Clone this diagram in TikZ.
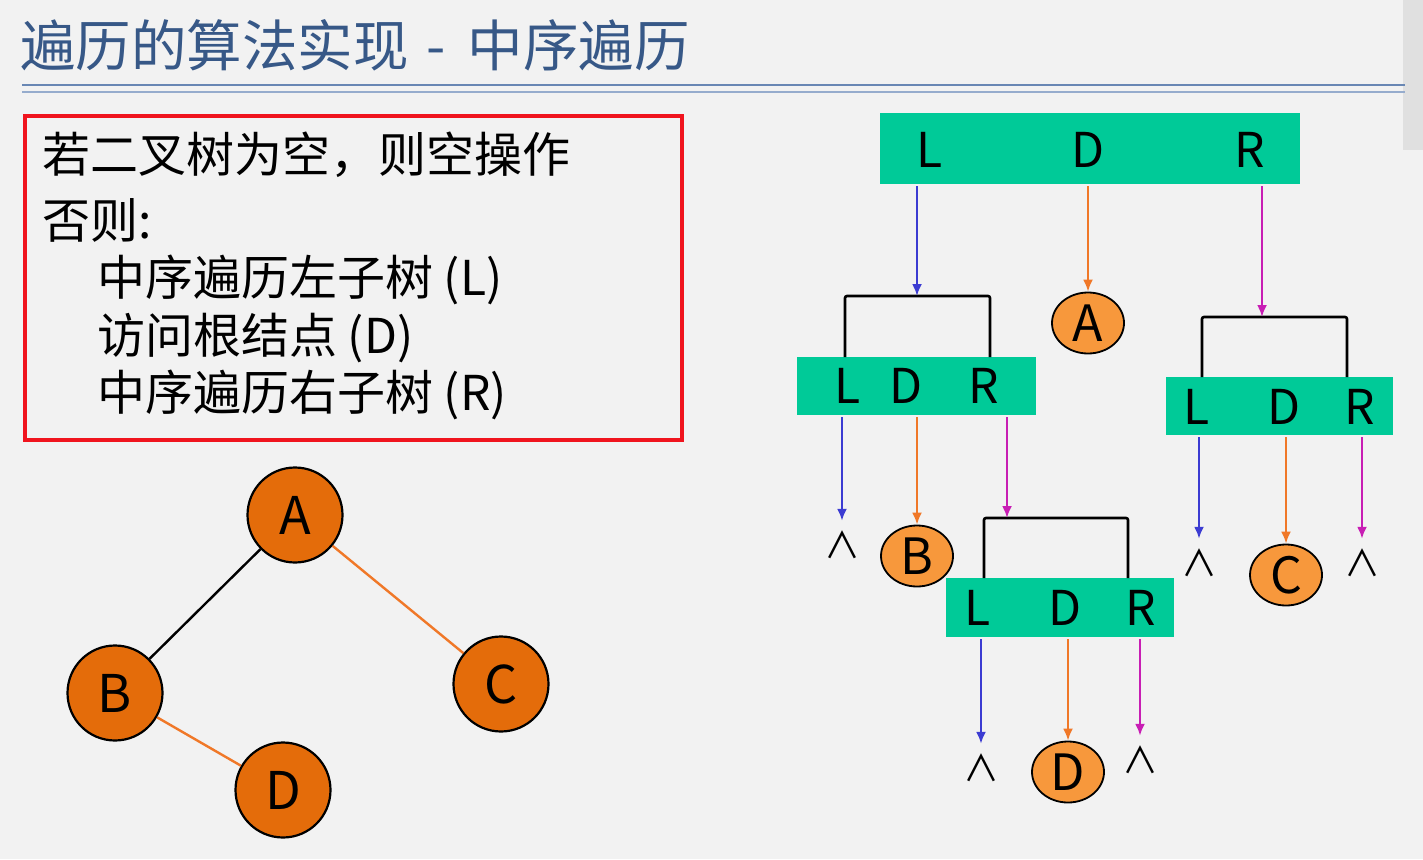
\documentclass[tikz,border=0pt]{standalone}
\usepackage{fontspec}
\setmainfont{Noto Sans CJK SC}
\usepackage{tikz}
\usetikzlibrary{positioning,arrows.meta,shapes.geometric,calc}
\definecolor{slidebg}{RGB}{242,242,242}
\definecolor{titleblue}{RGB}{55,88,135}
\definecolor{ruleblue}{RGB}{105,135,180}
\definecolor{rulelight}{RGB}{150,172,205}
\definecolor{framered}{RGB}{240,20,30}
\definecolor{ldrgreen}{RGB}{0,202,152}
\definecolor{darkorange}{RGB}{228,108,10}
\definecolor{lightorange}{RGB}{247,152,60}
\definecolor{edgeorange}{RGB}{240,120,40}
\definecolor{arrowblue}{RGB}{60,60,210}
\definecolor{arrowmag}{RGB}{200,30,180}
\tikzset{
  titletext/.style={anchor=west,inner sep=0pt,text=titleblue,font=\fontsize{55.5}{60}\selectfont},
  ruletext/.style={anchor=west,inner sep=0pt,font=\fontsize{48}{52}\selectfont},
  ldrbox/.style={rectangle,fill=ldrgreen,inner sep=0pt},
  ldrtext/.style={inner sep=0pt,font=\fontsize{48}{48}\selectfont},
  visit/.style={ellipse,draw=black,line width=1.8pt,fill=lightorange,minimum width=72pt,minimum height=61pt,inner sep=0pt,font=\fontsize{50}{50}\selectfont},
  treenode/.style={circle,draw=black,line width=2.2pt,fill=darkorange,minimum size=95pt,inner sep=0pt,font=\fontsize{52}{52}\selectfont},
  nullmark/.style={inner sep=0pt,font=\fontsize{36}{36}\selectfont},
  bracket/.style={line width=2.6pt,rounded corners=2pt},
  larrow/.style={-{Latex[length=12pt,width=10pt]},line width=2.2pt,draw=arrowblue,shorten <=2pt},
  darrow/.style={-{Latex[length=12pt,width=10pt]},line width=2.2pt,draw=edgeorange,shorten <=2pt},
  rarrow/.style={-{Latex[length=12pt,width=10pt]},line width=2.2pt,draw=arrowmag,shorten <=2pt},
  treeedge/.style={line width=2.4pt}
}

\begin{document}
\begin{tikzpicture}[x=1pt,y=-1pt]
  \useasboundingbox (0,0) rectangle (1423,859);
  \fill[slidebg] (0,0) rectangle (1423,859);
  \fill[black!12] (1403,0) rectangle (1423,150);

  % title
  \node[titletext] (title) at (20,45) {遍历的算法实现\hspace{18pt}-\hspace{22pt}中序遍历};
  \draw[ruleblue,line width=2.8pt] (22,85) -- (1405,85);
  \draw[rulelight,line width=1.2pt] (22,92) -- (1405,92);

  % rule text
  \draw[framered,line width=3.6pt] (25,116) rectangle (682,440);
  \node[ruletext] (r1) at (42,155) {若二叉树为空，则空操作};
  \node[ruletext] (r2) at (42,220) {否则:};
  \node[ruletext] (r3) at (97,280) {中序遍历左子树 (L)};
  \node[ruletext] (r4) at (97,338) {访问根结点 (D)};
  \node[ruletext] (r5) at (97,395) {中序遍历右子树 (R)};

  % tree
  \node[treenode] (tA) at (295,515) {A};
  \node[treenode] (tB) at (115,693) {B};
  \node[treenode] (tC) at (501,684) {C};
  \node[treenode] (tD) at (283,790) {D};
  \draw[treeedge] (tA) -- (tB);
  \draw[treeedge,edgeorange] (tA) -- (tC);
  \draw[treeedge,edgeorange] (tB) -- (tD);

  % LDR boxes
  \node[ldrbox,minimum width=420pt,minimum height=71pt] (top) at (1090,148.5) {};
  \node[ldrtext] (topL) at (930,150) {L};
  \node[ldrtext] (topD) at (1088,150) {D};
  \node[ldrtext] (topR) at (1250,150) {R};

  \node[ldrbox,minimum width=239pt,minimum height=58pt] (sub1) at (916.5,386) {};
  \node[ldrtext] (sub1L) at (848,386) {L};
  \node[ldrtext] (sub1D) at (906,386) {D};
  \node[ldrtext] (sub1R) at (984,386) {R};

  \node[ldrbox,minimum width=227pt,minimum height=58pt] (sub2) at (1279.5,406) {};
  \node[ldrtext] (sub2L) at (1197,407) {L};
  \node[ldrtext] (sub2D) at (1284,407) {D};
  \node[ldrtext] (sub2R) at (1360,407) {R};

  \node[ldrbox,minimum width=228pt,minimum height=59pt] (sub3) at (1060,607.5) {};
  \node[ldrtext] (sub3L) at (978,608) {L};
  \node[ldrtext] (sub3D) at (1065,608) {D};
  \node[ldrtext] (sub3R) at (1141,608) {R};

  % brackets
  \coordinate (br1) at (917,296);
  \coordinate (br2) at (1262,317);
  \coordinate (br3) at (1007,518);
  \draw[bracket] (845,357) |- (br1) -| (990,357);
  \draw[bracket] (1202,377) |- (br2) -| (1347,377);
  \draw[bracket] (984,578) |- (br3) -| (1128,578);

  % visited nodes and null marks
  \node[visit] (visA) at (1088,323) {A};
  \node[visit] (visB) at (917,556) {B};
  \node[visit] (visC) at (1286,575) {C};
  \node[visit] (visD) at (1068,772) {D};
  \node[nullmark] (n1) at (842,545) {∧};
  \node[nullmark] (n2) at (981,768) {∧};
  \node[nullmark] (n3) at (1140,760) {∧};
  \node[nullmark] (n4) at (1199,563) {∧};
  \node[nullmark] (n5) at (1362,563) {∧};

  % arrows
  \draw[larrow] (br1 |- top.south) -- (br1);
  \draw[darrow] (visA |- top.south) -- (visA.north);
  \draw[rarrow] (br2 |- top.south) -- (br2);
  \draw[larrow] (n1 |- sub1.south) -- ([yshift=10pt]n1.north);
  \draw[darrow] (visB |- sub1.south) -- (visB.north);
  \draw[rarrow] (br3 |- sub1.south) -- (br3);
  \draw[larrow] (n4 |- sub2.south) -- ([yshift=10pt]n4.north);
  \draw[darrow] (visC |- sub2.south) -- (visC.north);
  \draw[rarrow] (n5 |- sub2.south) -- ([yshift=10pt]n5.north);
  \draw[larrow] (n2 |- sub3.south) -- ([yshift=10pt]n2.north);
  \draw[darrow] (visD |- sub3.south) -- (visD.north);
  \draw[rarrow] (n3 |- sub3.south) -- ([yshift=10pt]n3.north);
\end{tikzpicture}
\end{document}
